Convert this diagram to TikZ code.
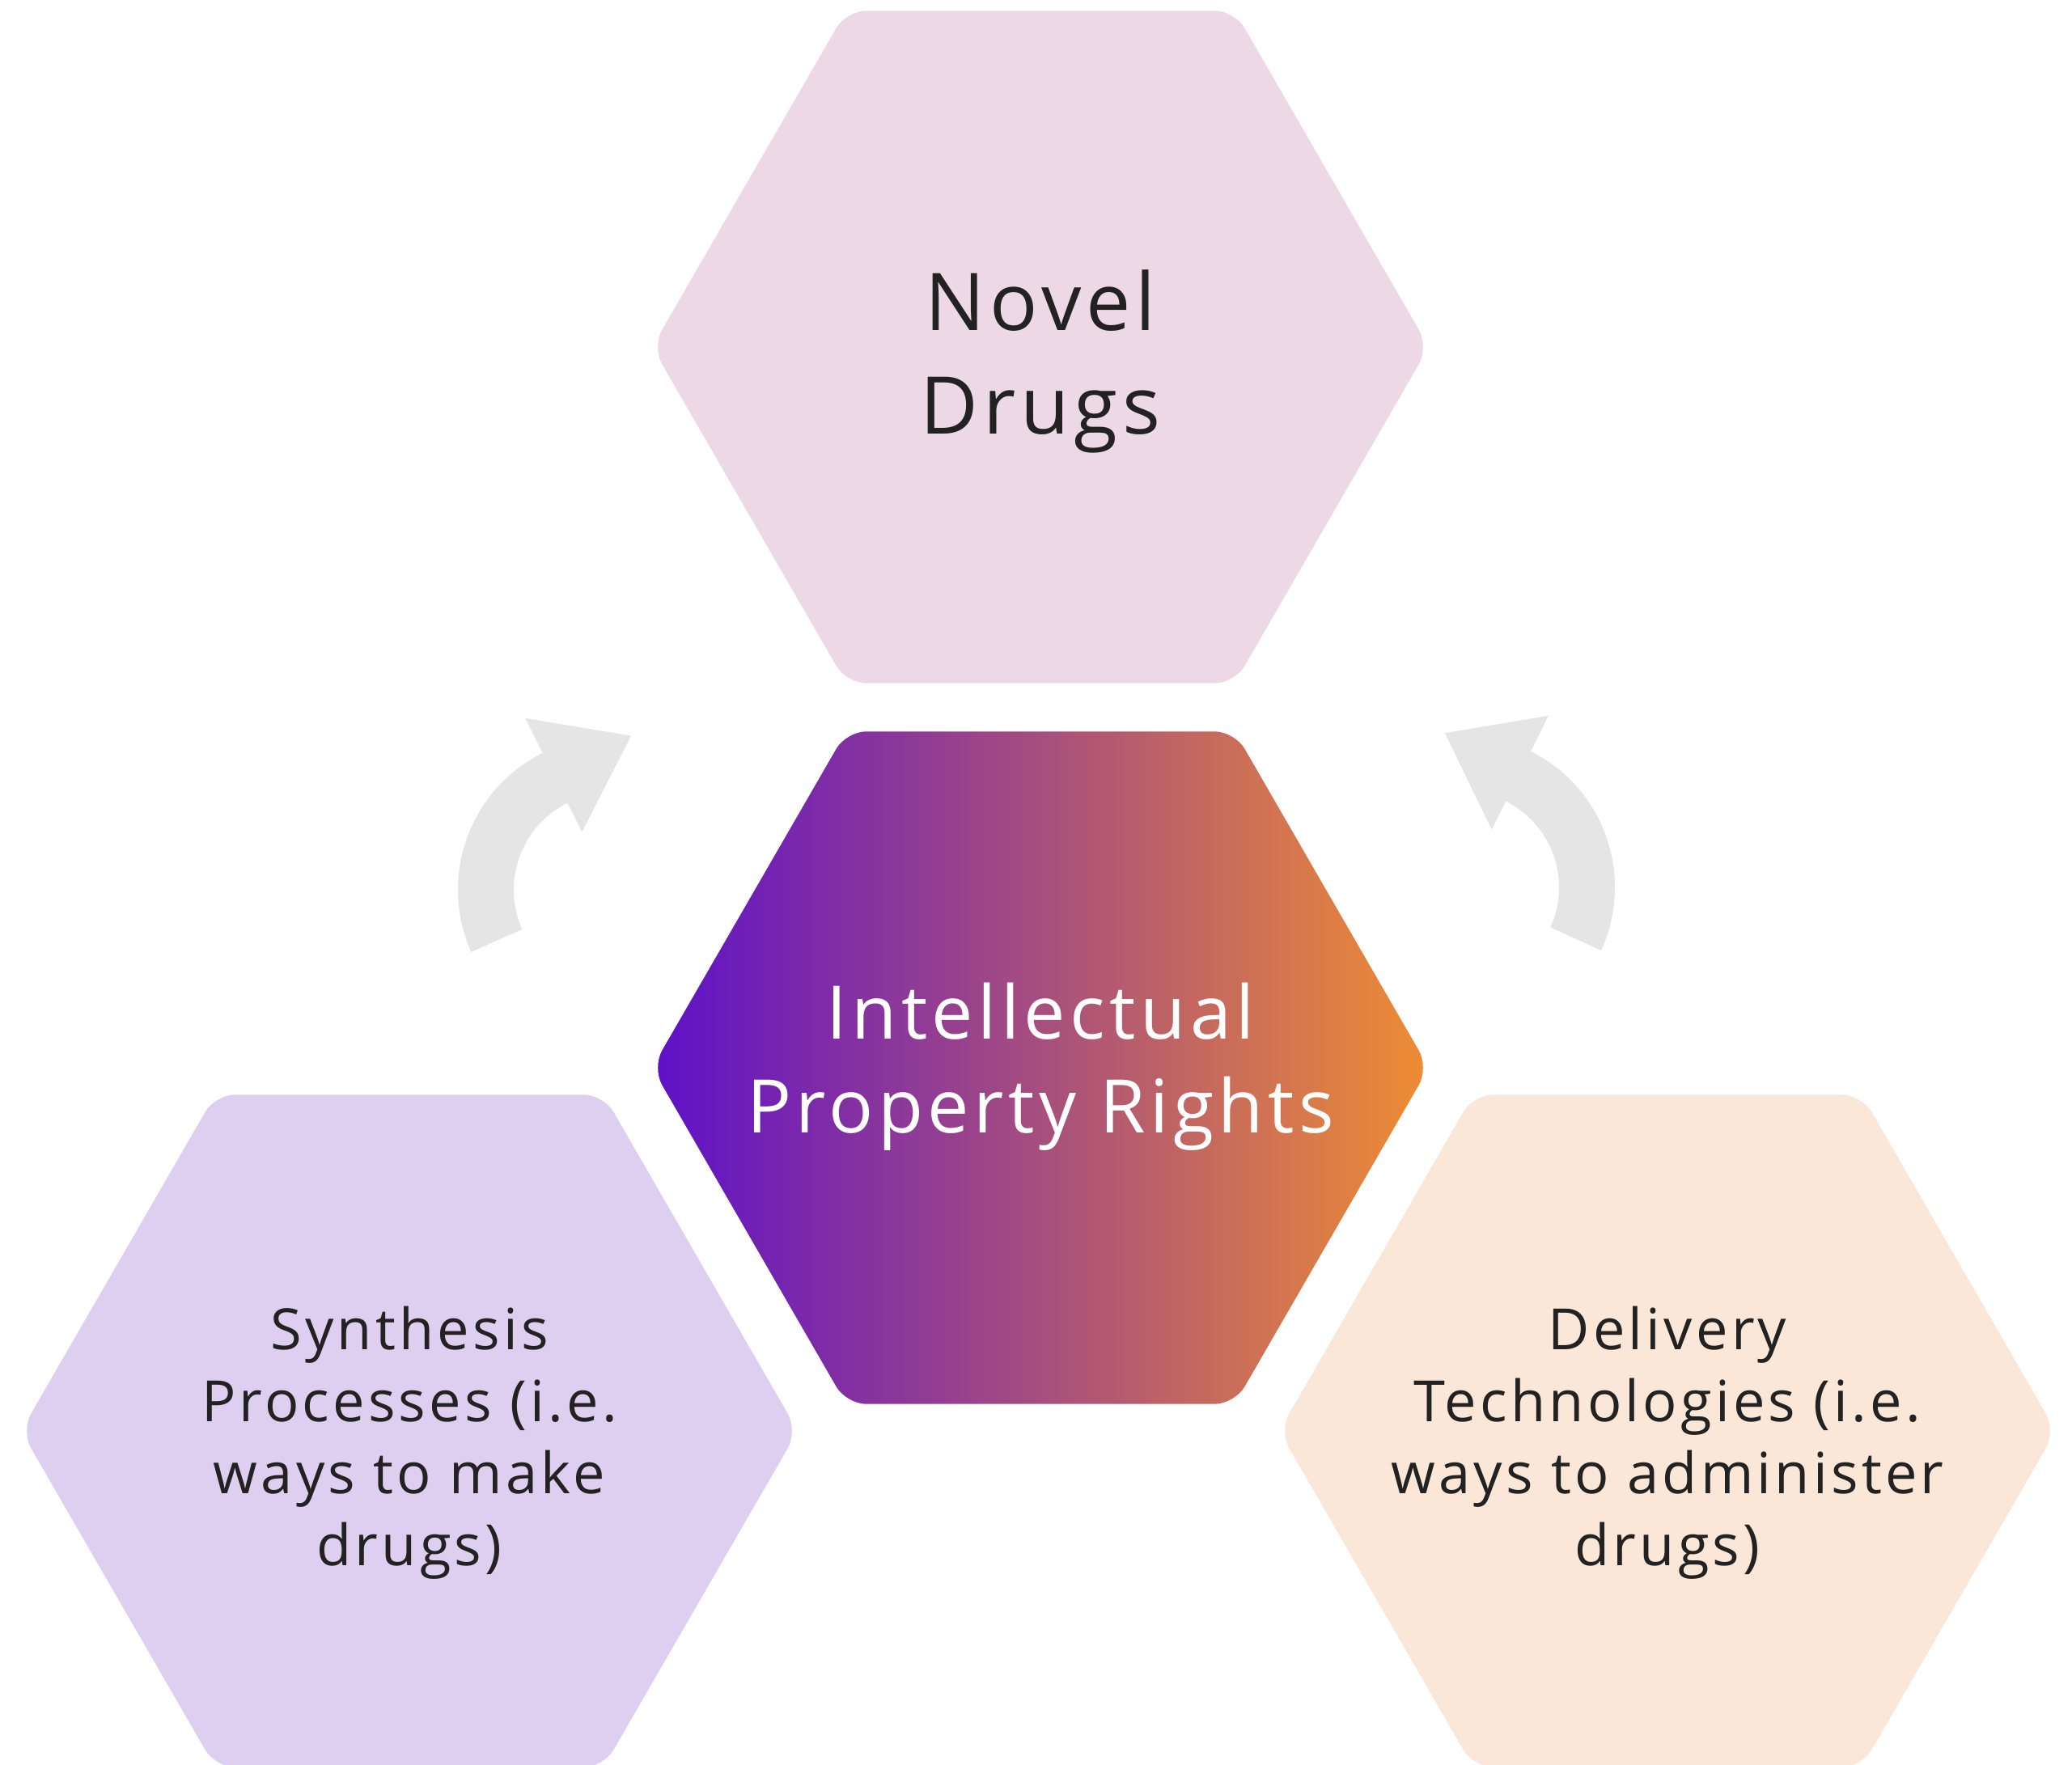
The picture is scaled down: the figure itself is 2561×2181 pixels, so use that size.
\documentclass[tikz,border=0pt]{standalone}
\usepackage{fontspec}
\setmainfont{Open Sans}[LetterSpace=6]
\usetikzlibrary{calc}
\definecolor{topc}{HTML}{EDD9E5}
\definecolor{blc}{HTML}{DECFF1}
\definecolor{brc}{HTML}{FAE7D8}
\definecolor{gl}{HTML}{5E10C9}
\definecolor{gr}{HTML}{EF8D33}
\definecolor{arrowc}{HTML}{E5E5E5}
\definecolor{txt}{HTML}{222222}
\begin{document}
\begin{tikzpicture}[x=0.01cm,y=0.01cm,
  hexpath/.style={rounded corners=7pt, insert path={($(#1)+(0,415.7)$) -- ++(-240,0) -- ++(-240,-415.7) -- ++(240,-415.7) -- ++(480,0) -- ++(240,415.7) -- ++(-240,415.7) -- cycle}},
  big/.style={font=\fontsize{28}{36.5}\selectfont, text=txt, align=center},
  mid/.style={font=\fontsize{26}{33}\selectfont, text=white, align=center},
  small/.style={font=\fontsize{20}{25.3}\selectfont, text=txt, align=center}]
\useasboundingbox (0,0) rectangle (2561,2181);
\coordinate (T) at (1286,1752);
\coordinate (C) at (1286,861);
\coordinate (BL) at (506,412);
\coordinate (BR) at (2061,412);
\coordinate (LA) at (755,1081);
\coordinate (RA) at (1808,1084);
% hexagons
\fill[topc, hexpath=T];
\fill[blc, hexpath=BL];
\fill[brc, hexpath=BR];
\shade[left color=gl, right color=gr, hexpath=C];
% arrows
\fill[arrowc] ($(LA)+(204:189)$) arc[start angle=204, end angle=116.5, radius=189]
  -- ($(LA)+(116.5:237)$) -- ($(LA)+(82.5:192)$) -- ($(LA)+(116.5:80)$)
  -- ($(LA)+(116.5:120)$) arc[start angle=116.5, end angle=204, radius=120] -- cycle;
\fill[arrowc] ($(RA)+(-24.5:188)$) arc[start angle=-24.5, end angle=63.5, radius=188]
  -- ($(RA)+(63.5:237)$) -- ($(RA)+(96.6:192)$) -- ($(RA)+(63.5:80)$)
  -- ($(RA)+(63.5:119)$) arc[start angle=63.5, end angle=-24.5, radius=119] -- cycle;
% texts
\node[big] (tnovel) at (1286,1734) {Novel\\Drugs};
\node[mid] (tipr) at (1286,862) {Intellectual\\Property Rights};
\node[small] (tsyn) at (506,397) {Synthesis\\Processes (i.e.\\ways to make\\drugs)};
\node[small] (tdel) at (2061,397) {Delivery\\Technologies (i.e.\\ways to administer\\drugs)};
\end{tikzpicture}
\end{document}
